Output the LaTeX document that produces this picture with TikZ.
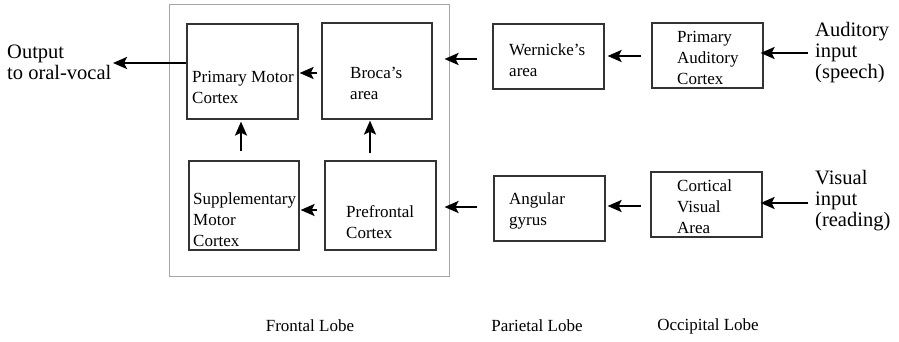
\documentclass[tikz,border=0pt]{standalone}
\usepackage{fontspec}
\setmainfont{Liberation Serif}
\usetikzlibrary{arrows.meta}
\begin{document}
\begin{tikzpicture}[x=1pt,y=-1pt,
  box/.style={draw=black!80, line width=1.2pt, inner sep=0pt, rectangle},
  frame/.style={draw=black!35, line width=1pt, inner sep=0pt, rectangle},
  txt/.style={anchor=west, align=left, inner sep=0pt, font=\fontsize{17}{21}\selectfont},
  big/.style={anchor=west, align=left, inner sep=0pt, font=\fontsize{20.5}{21}\selectfont},
  lobe/.style={inner sep=0pt, font=\fontsize{17}{20}\selectfont},
  arr/.style={line width=2.4pt, -{Stealth[length=14pt,width=12pt,inset=3pt]}}]
\useasboundingbox (0,0) rectangle (899,342);
% frame
\node[frame, minimum width=280pt, minimum height=271pt] (frame) at (309,140.5) {};
% boxes
\node[box, minimum width=111pt, minimum height=95pt] (pmc) at (242.5,71.5) {};
\node[box, minimum width=110pt, minimum height=96pt] (broca) at (377,71) {};
\node[box, minimum width=110pt, minimum height=89pt] (sup) at (244,205.5) {};
\node[box, minimum width=111pt, minimum height=89pt] (pre) at (380.5,205.5) {};
\node[box, minimum width=111pt, minimum height=65pt] (wer) at (548.5,56.5) {};
\node[box, minimum width=111pt, minimum height=65pt] (pac) at (707.5,55.5) {};
\node[box, minimum width=111pt, minimum height=65pt] (ang) at (549.5,208.5) {};
\node[box, minimum width=111pt, minimum height=65pt] (cva) at (706.5,204.5) {};
% texts
\node[txt] (tpmc) at (192,87.5) {Primary Motor\\Cortex};
\node[txt] (tbroca) at (350,83.5) {Broca’s\\area};
\node[txt] (tsup) at (193,219.5) {Supplementary\\Motor\\Cortex};
\node[txt] (tpre) at (346,222.5) {Prefrontal\\Cortex};
\node[txt] (twer) at (509,60) {Wernicke’s\\area};
\node[txt] (tpac) at (677,58) {Primary\\Auditory\\Cortex};
\node[txt] (tang) at (509,210.5) {Angular\\gyrus};
\node[txt] (tcva) at (677,206.5) {Cortical\\Visual\\Area};
\node[big] (tout) at (7,62.5) {Output\\to oral-vocal};
\node[big] (taud) at (815,52.5) {Auditory\\input\\(speech)};
\node[big] (tvis) at (815,201) {Visual\\input\\(reading)};
\node[lobe] (lf) at (310,326) {Frontal Lobe};
\node[lobe] (lp) at (537,326) {Parietal Lobe};
\node[lobe] (lo) at (708,326) {Occipital Lobe};
% coordinates
\coordinate (outtip) at (113,63);
\coordinate (audtail) at (808,53);
\coordinate (vistail) at (808,203);
% arrows
\draw[arr] (pmc.west |- 0,63) -- (outtip);
\draw[arr, shorten <=4pt, shorten >=1pt] (broca.west |- 0,73) -- (pmc.east |- 0,73);
\draw[arr, shorten <=9pt, shorten >=2pt] (sup.north -| 241,0) -- (pmc.south -| 241,0);
\draw[arr, shorten <=7pt, shorten >=1pt] (pre.north -| 370,0) -- (broca.south -| 370,0);
\draw[arr, shorten <=7pt, shorten >=1pt] (pre.west |- 0,210) -- (sup.east |- 0,210);
\draw[arr, shorten <=15pt, shorten >=-5pt] (wer.west |- 0,59) -- (frame.east |- 0,59);
\draw[arr, shorten <=10pt, shorten >=3pt] (pac.west |- 0,56) -- (wer.east |- 0,56);
\draw[arr, shorten >=-3pt] (audtail) -- (pac.east |- audtail);
\draw[arr, shorten <=16pt, shorten >=-5pt] (ang.west |- 0,207) -- (frame.east |- 0,207);
\draw[arr, shorten <=9pt, shorten >=2pt] (cva.west |- 0,206) -- (ang.east |- 0,206);
\draw[arr, shorten >=-2pt] (vistail) -- (cva.east |- vistail);
\end{tikzpicture}
\end{document}
